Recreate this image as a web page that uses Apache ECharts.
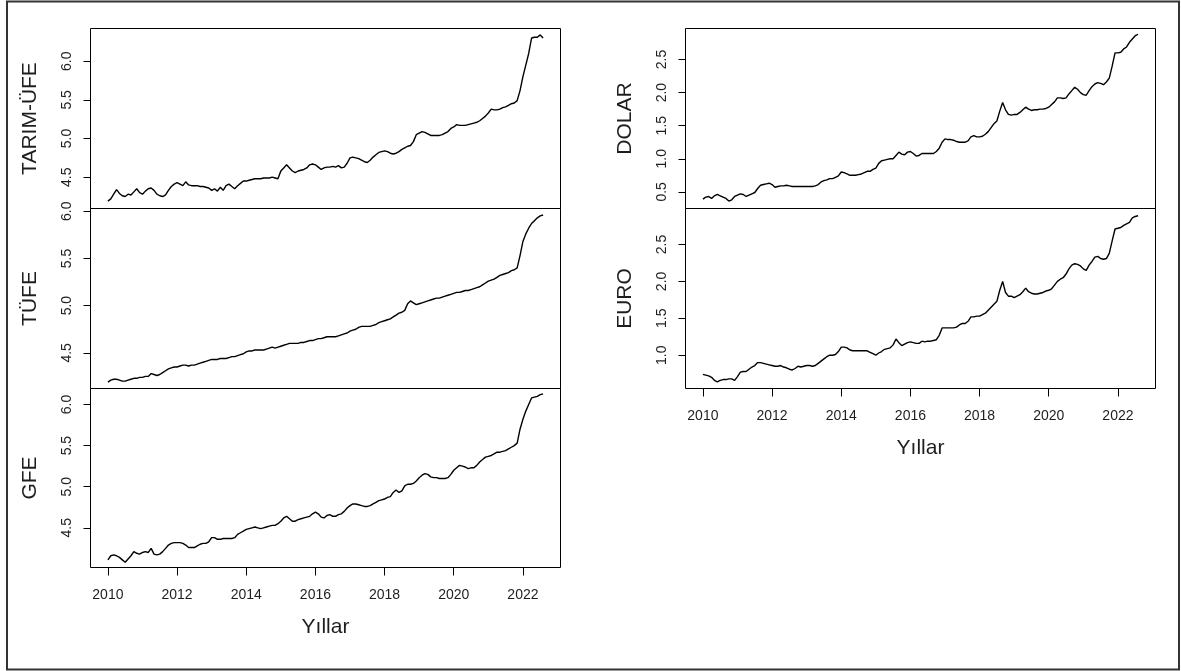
<!DOCTYPE html>
<html>
<head>
<meta charset="utf-8">
<script src="https://cdn.jsdelivr.net/npm/echarts@6/dist/echarts.min.js"></script>
<style>
  html, body { margin: 0; padding: 0; background: #fff; }
  #chart { width: 1181px; height: 671px; }
</style>
</head>
<body>
<div id="chart"></div>
<script>
// Monthly series, January 2010 – August 2022 (log levels)
const START_YEAR = 2010;
const yearTicks = [2010, 2012, 2014, 2016, 2018, 2020, 2022];

const tarimUfe = [
  4.19, 4.22, 4.28, 4.34, 4.29, 4.26, 4.25, 4.28, 4.27, 4.31, 4.35, 4.30,
  4.28, 4.32, 4.35, 4.36, 4.33, 4.28, 4.26, 4.25, 4.27, 4.33, 4.38, 4.41,
  4.43, 4.41, 4.39, 4.44, 4.40, 4.39, 4.39, 4.39, 4.38, 4.38, 4.37, 4.36,
  4.33, 4.35, 4.32, 4.37, 4.33, 4.39, 4.41, 4.38, 4.35, 4.39, 4.42, 4.45,
  4.45, 4.46, 4.47, 4.48, 4.48, 4.48, 4.49, 4.49, 4.49, 4.50, 4.49, 4.48,
  4.58, 4.62, 4.66, 4.62, 4.58, 4.56, 4.58, 4.59, 4.60, 4.62, 4.66, 4.67,
  4.66, 4.63, 4.60, 4.62, 4.63, 4.63, 4.64, 4.63, 4.65, 4.62, 4.63, 4.68,
  4.75, 4.76, 4.75, 4.74, 4.72, 4.70, 4.69, 4.72, 4.76, 4.79, 4.82, 4.83,
  4.84, 4.83, 4.81, 4.80, 4.81, 4.83, 4.86, 4.88, 4.90, 4.91, 4.96, 5.05,
  5.07, 5.09, 5.08, 5.06, 5.04, 5.04, 5.04, 5.04, 5.05, 5.07, 5.09, 5.13,
  5.15, 5.18, 5.17, 5.17, 5.17, 5.18, 5.19, 5.20, 5.21, 5.23, 5.26, 5.29,
  5.33, 5.38, 5.37, 5.37, 5.38, 5.40, 5.41, 5.43, 5.45, 5.46, 5.49, 5.62,
  5.80, 5.95, 6.10, 6.30, 6.31, 6.31, 6.34, 6.30
];

const tufe = [
  4.19, 4.21, 4.22, 4.22, 4.21, 4.20, 4.20, 4.21, 4.22, 4.23, 4.23, 4.24,
  4.24, 4.25, 4.25, 4.28, 4.27, 4.26, 4.27, 4.29, 4.31, 4.33, 4.34, 4.35,
  4.35, 4.36, 4.37, 4.37, 4.36, 4.37, 4.37, 4.38, 4.39, 4.40, 4.41, 4.42,
  4.43, 4.43, 4.43, 4.44, 4.44, 4.44, 4.45, 4.46, 4.46, 4.47, 4.48, 4.49,
  4.51, 4.52, 4.52, 4.53, 4.53, 4.53, 4.53, 4.54, 4.55, 4.56, 4.55, 4.56,
  4.57, 4.58, 4.59, 4.60, 4.60, 4.60, 4.60, 4.61, 4.61, 4.62, 4.63, 4.63,
  4.64, 4.65, 4.65, 4.66, 4.67, 4.67, 4.67, 4.67, 4.68, 4.69, 4.70, 4.71,
  4.73, 4.74, 4.75, 4.77, 4.78, 4.78, 4.78, 4.78, 4.79, 4.80, 4.82, 4.83,
  4.84, 4.85, 4.86, 4.88, 4.90, 4.92, 4.93, 4.95, 5.02, 5.05, 5.03, 5.01,
  5.02, 5.03, 5.04, 5.05, 5.06, 5.07, 5.08, 5.08, 5.09, 5.10, 5.11, 5.12,
  5.13, 5.14, 5.14, 5.15, 5.16, 5.16, 5.17, 5.18, 5.19, 5.20, 5.22, 5.24,
  5.26, 5.27, 5.28, 5.30, 5.32, 5.33, 5.34, 5.35, 5.37, 5.38, 5.40, 5.53,
  5.68, 5.76, 5.82, 5.87, 5.90, 5.93, 5.95, 5.96
];

const gfe = [
  4.11, 4.16, 4.17, 4.16, 4.14, 4.11, 4.08, 4.12, 4.16, 4.21, 4.19, 4.18,
  4.20, 4.21, 4.20, 4.25, 4.18, 4.17, 4.18, 4.21, 4.25, 4.29, 4.31, 4.32,
  4.32, 4.32, 4.31, 4.29, 4.26, 4.26, 4.26, 4.28, 4.30, 4.31, 4.31, 4.33,
  4.38, 4.38, 4.36, 4.36, 4.37, 4.37, 4.37, 4.37, 4.38, 4.42, 4.44, 4.46,
  4.48, 4.49, 4.50, 4.51, 4.50, 4.49, 4.50, 4.51, 4.52, 4.53, 4.53, 4.55,
  4.58, 4.62, 4.64, 4.61, 4.58, 4.58, 4.60, 4.61, 4.62, 4.63, 4.64, 4.67,
  4.69, 4.67, 4.63, 4.62, 4.65, 4.66, 4.64, 4.64, 4.66, 4.67, 4.70, 4.74,
  4.77, 4.79, 4.79, 4.78, 4.77, 4.76, 4.76, 4.77, 4.79, 4.81, 4.83, 4.84,
  4.85, 4.87, 4.88, 4.93, 4.96, 4.93, 4.95, 5.01, 5.03, 5.03, 5.04, 5.07,
  5.11, 5.14, 5.16, 5.15, 5.12, 5.11, 5.11, 5.10, 5.10, 5.10, 5.11, 5.15,
  5.20, 5.23, 5.26, 5.25, 5.24, 5.22, 5.23, 5.23, 5.26, 5.30, 5.33, 5.36,
  5.37, 5.38, 5.40, 5.42, 5.42, 5.43, 5.44, 5.46, 5.48, 5.50, 5.53, 5.70,
  5.82, 5.92, 6.00, 6.08, 6.09, 6.10, 6.12, 6.13
];

const dolar = [
  0.39, 0.42, 0.43, 0.40, 0.44, 0.46, 0.44, 0.42, 0.40, 0.36, 0.38, 0.43,
  0.45, 0.47, 0.46, 0.43, 0.45, 0.47, 0.49, 0.55, 0.60, 0.61, 0.62, 0.63,
  0.61, 0.57, 0.58, 0.59, 0.59, 0.60, 0.59, 0.58, 0.58, 0.58, 0.58, 0.58,
  0.58, 0.58, 0.58, 0.59, 0.61, 0.65, 0.67, 0.68, 0.70, 0.70, 0.72, 0.74,
  0.80, 0.79, 0.77, 0.75, 0.75, 0.75, 0.76, 0.77, 0.79, 0.81, 0.81, 0.84,
  0.86, 0.93, 0.97, 0.98, 0.99, 1.00, 1.00, 1.05, 1.10, 1.07, 1.06, 1.10,
  1.11, 1.08, 1.04, 1.05, 1.08, 1.08, 1.08, 1.08, 1.08, 1.11, 1.16, 1.25,
  1.30, 1.29, 1.29, 1.28, 1.26, 1.25, 1.25, 1.25, 1.27, 1.33, 1.35, 1.33,
  1.33, 1.34, 1.37, 1.41, 1.47, 1.53, 1.57, 1.72, 1.85, 1.74, 1.67, 1.66,
  1.67, 1.67, 1.70, 1.74, 1.78, 1.75, 1.73, 1.74, 1.74, 1.75, 1.75, 1.76,
  1.78, 1.82, 1.86, 1.92, 1.92, 1.91, 1.92, 1.98, 2.03, 2.08, 2.05, 2.00,
  1.97, 1.96, 2.03, 2.09, 2.13, 2.15, 2.14, 2.12, 2.16, 2.22, 2.40, 2.60,
  2.60, 2.61, 2.66, 2.69, 2.76, 2.81, 2.86, 2.88
];

const euro = [
  0.74, 0.73, 0.72, 0.70, 0.66, 0.64, 0.66, 0.67, 0.67, 0.68, 0.68, 0.66,
  0.71, 0.77, 0.78, 0.78, 0.81, 0.84, 0.86, 0.90, 0.90, 0.89, 0.88, 0.87,
  0.86, 0.85, 0.85, 0.86, 0.84, 0.83, 0.81, 0.80, 0.82, 0.85, 0.84, 0.85,
  0.86, 0.86, 0.85, 0.86, 0.89, 0.92, 0.95, 0.98, 1.00, 1.00, 1.01, 1.05,
  1.11, 1.11, 1.10, 1.07, 1.06, 1.06, 1.06, 1.06, 1.06, 1.06, 1.04, 1.02,
  1.00, 1.03, 1.05, 1.08, 1.09, 1.10, 1.14, 1.22, 1.17, 1.13, 1.15, 1.17,
  1.18, 1.17, 1.16, 1.16, 1.19, 1.18, 1.19, 1.19, 1.20, 1.21, 1.27, 1.37,
  1.37, 1.37, 1.37, 1.37, 1.38, 1.41, 1.43, 1.43, 1.46, 1.52, 1.52, 1.53,
  1.53, 1.55, 1.57, 1.61, 1.65, 1.69, 1.73, 1.88, 2.00, 1.85, 1.80, 1.80,
  1.78, 1.80, 1.82, 1.86, 1.91, 1.86, 1.84, 1.83, 1.83, 1.84, 1.85, 1.87,
  1.88, 1.90, 1.95, 2.00, 2.03, 2.05, 2.10, 2.17, 2.22, 2.24, 2.23, 2.21,
  2.17, 2.15, 2.22, 2.27, 2.33, 2.34, 2.31, 2.30, 2.31, 2.38, 2.55, 2.71,
  2.72, 2.73, 2.76, 2.78, 2.80, 2.86, 2.88, 2.89
];

const ticksUfe = [4.5, 5.0, 5.5, 6.0];
const ticksDolar = [0.5, 1.0, 1.5, 2.0, 2.5];
const ticksEuro = [1.0, 1.5, 2.0, 2.5];

// Panel layout: name, values, y ticks, y range, plot box, year axis below
const FONT = '"Liberation Sans", Arial, sans-serif';
const TEXT = '#1e1e1e';
const X_MIN = 2009.4967, X_MAX = 2023.0867;

const panels = [
  { name: 'TARIM-ÜFE', values: tarimUfe, ticks: ticksUfe, yMin: 4.095, yMax: 6.423,
    box: { left: 90.5, top: 28.5, width: 470, height: 180 }, years: false },
  { name: 'TÜFE', values: tufe, ticks: ticksUfe, yMin: 4.122, yMax: 6.029,
    box: { left: 90.5, top: 208.5, width: 470, height: 180 }, years: false },
  { name: 'GFE', values: gfe, ticks: ticksUfe, yMin: 4.017, yMax: 6.195,
    box: { left: 90.5, top: 388.5, width: 470, height: 179 }, years: true },
  { name: 'DOLAR', values: dolar, ticks: ticksDolar, yMin: 0.248, yMax: 2.969,
    box: { left: 685.5, top: 28.5, width: 470, height: 180 }, years: false },
  { name: 'EURO', values: euro, ticks: ticksEuro, yMin: 0.549, yMax: 2.988,
    box: { left: 685.5, top: 208.5, width: 470, height: 180 }, years: true }
];

const toSeriesData = vals => vals.map((v, i) => [START_YEAR + i / 12, v]);

const grid = [], xAxis = [], yAxis = [], series = [];
panels.forEach((p, k) => {
  grid.push(Object.assign({ show: true, borderColor: '#000', borderWidth: 1,
    backgroundColor: 'transparent', containLabel: false }, p.box));
  xAxis.push({
    gridIndex: k, type: 'value', min: X_MIN, max: X_MAX,
    axisLine: { show: false },
    splitLine: { show: false },
    axisTick: { show: p.years, length: 8, customValues: yearTicks,
      lineStyle: { color: '#000', width: 1 } },
    axisLabel: { show: p.years, customValues: yearTicks, margin: 21,
      fontFamily: FONT, fontSize: 14, color: TEXT, formatter: v => String(v) },
    name: p.years ? 'Yıllar' : '', nameLocation: 'middle', nameGap: 49,
    nameTextStyle: { fontFamily: FONT, fontSize: 21, color: TEXT }
  });
  yAxis.push({
    gridIndex: k, type: 'value', min: p.yMin, max: p.yMax,
    axisLine: { show: false },
    splitLine: { show: false },
    axisTick: { show: true, length: 7, customValues: p.ticks,
      lineStyle: { color: '#000', width: 1 } },
    axisLabel: { show: true, customValues: p.ticks, rotate: 90, margin: 16,
      fontFamily: FONT, fontSize: 14, color: TEXT, formatter: v => v.toFixed(1) },
    name: p.name, nameLocation: 'middle', nameRotate: 90, nameGap: 50,
    nameTextStyle: { fontFamily: FONT, fontSize: 21, color: TEXT }
  });
  series.push({
    type: 'line', xAxisIndex: k, yAxisIndex: k, name: p.name,
    data: toSeriesData(p.values), showSymbol: false, symbol: 'none',
    lineStyle: { color: '#000', width: 1.4 }, silent: true
  });
});

const chart = echarts.init(document.getElementById('chart'), null, { renderer: 'canvas' });
chart.setOption({
  animation: false,
  backgroundColor: '#fff',
  grid, xAxis, yAxis, series,
  graphic: [{
    type: 'rect', silent: true,
    shape: { x: 7, y: 1.5, width: 1172, height: 668 },
    style: { fill: null, stroke: '#333', lineWidth: 2 }
  }]
});
</script>
</body>
</html>
